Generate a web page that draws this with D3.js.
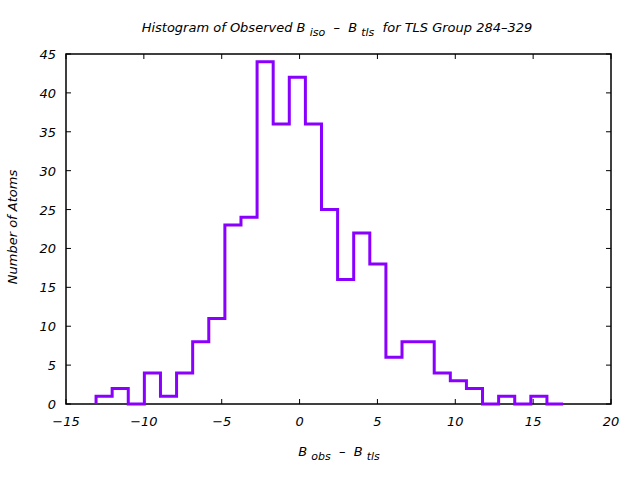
<!DOCTYPE html>
<html><head><meta charset="utf-8">
<script src="https://cdn.jsdelivr.net/npm/d3@7"></script>
<style>
body{margin:0;background:#fff;}
text{font-family:"DejaVu Sans",sans-serif;font-style:italic;font-size:13px;fill:#000;}
</style></head><body>
<svg id="c" width="640" height="480"></svg>
<script>
const counts = [1,2,0,4,1,4,8,11,23,24,44,36,42,36,25,16,22,18,6,8,8,4,3,2,0,1,0,1,0];
const binStart = -13.07;
const binEnd = 16.92;
const xTicks = [-15,-10,-5,0,5,10,15,20];
const yTicks = [0,5,10,15,20,25,30,35,40,45];

const svg = d3.select("#c");
const L=66, R=611, T=54, B=404;
const x = d3.scaleLinear().domain([-15,20]).range([L,R]);
const y = d3.scaleLinear().domain([0,45]).range([B,T]);
const w = (binEnd-binStart)/counts.length;

// border
svg.append("rect").attr("x",L).attr("y",T).attr("width",R-L).attr("height",B-T)
  .attr("fill","none").attr("stroke","#000").attr("stroke-width",1.5);

const tl=5;
xTicks.forEach(t=>{
  const px=x(t);
  svg.append("line").attr("x1",px).attr("x2",px).attr("y1",B).attr("y2",B-tl).attr("stroke","#000");
  svg.append("line").attr("x1",px).attr("x2",px).attr("y1",T).attr("y2",T+tl).attr("stroke","#000");
  svg.append("text").attr("x",px).attr("y",B+22).attr("text-anchor","middle").text(t<0?"\u2212"+(-t):t);
});
yTicks.forEach(t=>{
  const py=y(t);
  svg.append("line").attr("x1",L).attr("x2",L+tl).attr("y1",py).attr("y2",py).attr("stroke","#000");
  svg.append("line").attr("x1",R).attr("x2",R-tl).attr("y1",py).attr("y2",py).attr("stroke","#000");
  svg.append("text").attr("x",L-10).attr("y",py+5).attr("text-anchor","end").text(t);
});

// histogram step line
const pts=[];
counts.forEach((c,i)=>{
  const x0=binStart+i*w, x1=binStart+(i+1)*w;
  if(i===0) pts.push([x0,0]);
  pts.push([x0,c]); pts.push([x1,c]);
});
pts.push([binEnd,0]);
svg.append("path").attr("d",d3.line().x(d=>x(d[0])).y(d=>y(d[1]))(pts))
  .attr("fill","none").attr("stroke","#8a00ff").attr("stroke-width",3).attr("stroke-linejoin","miter");

// title
const title = svg.append("text").attr("x",337).attr("y",32).attr("text-anchor","middle").attr("xml:space","preserve");
title.append("tspan").text("Histogram of Observed B ");
title.append("tspan").attr("dy",4).attr("font-size","11px").text("iso");
title.append("tspan").attr("dy",-4).text("\u00a0 \u2013 \u00a0B ");
title.append("tspan").attr("dy",4).attr("font-size","11px").text("tls");
title.append("tspan").attr("dy",-4).text("\u00a0 for TLS Group 284\u2013329");

// x label
const xl = svg.append("text").attr("x",339).attr("y",456).attr("text-anchor","middle");
xl.append("tspan").text("B ");
xl.append("tspan").attr("dy",4).attr("font-size","11px").text("obs");
xl.append("tspan").attr("dy",-4).text("\u00a0 \u2013 \u00a0B ");
xl.append("tspan").attr("dy",4).attr("font-size","11px").text("tls");

// y label
svg.append("text").attr("transform","translate(17,227) rotate(-90)").attr("text-anchor","middle").text("Number of Atoms");
</script></body></html>
